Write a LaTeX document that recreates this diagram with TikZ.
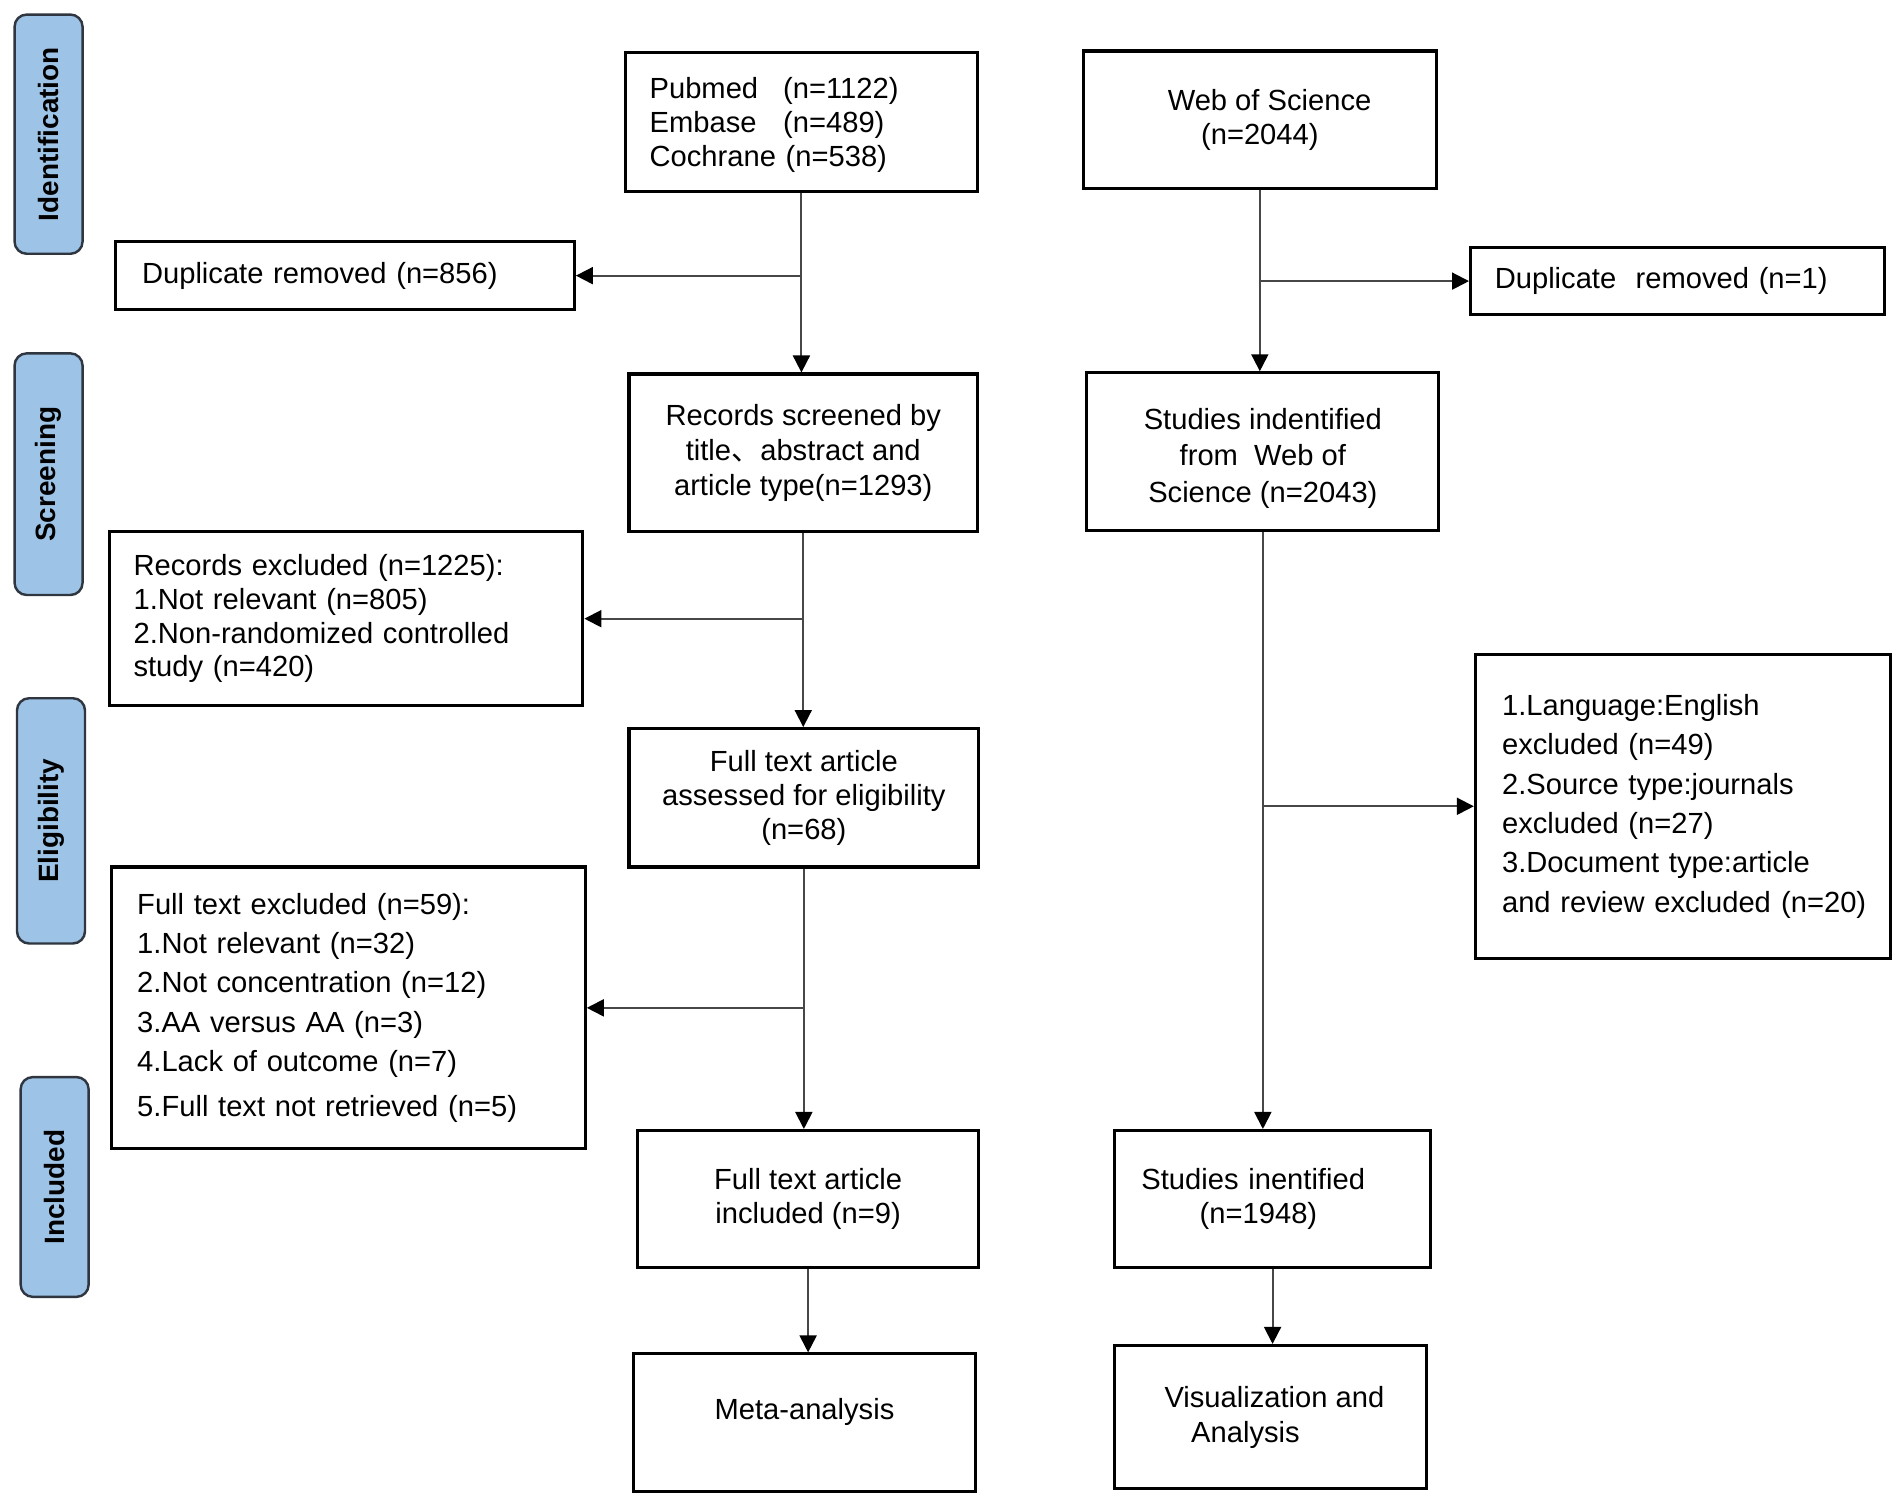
\documentclass[tikz,border=0pt]{standalone}
\usepackage{fontspec}
\setmainfont{Liberation Sans}
\newfontfamily\cjk{Noto Sans CJK SC}
\usetikzlibrary{arrows.meta}
\definecolor{labfill}{HTML}{9DC3E6}
\definecolor{labdraw}{HTML}{2F3640}
\begin{document}
\begin{tikzpicture}[x=0.5pt,y=-0.5pt,
  box/.style={draw=black, line width=1.25pt, rectangle, inner ysep=0pt, inner xsep=0pt, font=\fontsize{12}{14}\selectfont},
  bs/.style={font=\fontsize{12}{#1}\selectfont},
  lbox/.style={box, align=left},
  cbox/.style={box, align=center},
  phase/.style={draw=labdraw, fill=labfill, line width=1pt, rounded corners=5pt, rotate=90, inner sep=0pt, font=\fontsize{11.5}{13}\selectfont\bfseries},
  conn/.style={draw=black!72, line width=0.8pt},
  arr/.style={conn, -{Triangle[length=7pt,width=7pt,color=black]}}]
\useasboundingbox (0,0) rectangle (1568,1235);
\fill[white] (0,0) rectangle (1568,1235);

% phase labels
\node[phase, minimum width=98.5pt, minimum height=28pt] (pid) at (40,110.5) {Identification};
\node[phase, minimum width=99.5pt, minimum height=28pt] (psc) at (40,390.5) {Screening};
\node[phase, minimum width=101pt, minimum height=28pt] (pel) at (42,676) {Eligibility};
\node[phase, minimum width=90.5pt, minimum height=28pt] (pin) at (45,977.5) {Included};

% left column
\node[lbox, minimum width=145pt, minimum height=57.5pt, text width=125pt] (pub) at (660,100.5)
  {\rule{0pt}{11.5pt}\makebox[55pt][l]{Pubmed}(n=1122)\\\makebox[55pt][l]{Embase}(n=489)\\Cochrane~(n=538)};
\node[lbox, minimum width=189pt, minimum height=28pt, text width=167pt] (dup1) at (284,227)
  {Duplicate~removed~(n=856)};
\node[cbox, bs=14.5pt, minimum width=143.5pt, minimum height=65pt] (scr) at (661.5,373)
  {Records screened by\\title{\cjk 、}abstract and\\article type(n=1293)};
\node[lbox, bs=13.9pt, minimum width=195pt, minimum height=71.5pt, text width=175pt] (rex) at (285,509.5)
  {Records~excluded~(n=1225):\\1.Not~relevant~(n=805)\\2.Non-randomized~controlled\\study~(n=420)};
\node[cbox, minimum width=144pt, minimum height=57pt] (fta) at (662,657)
  {Full text article\\assessed for eligibility\\(n=68)};
\node[lbox, bs=16.25pt, minimum width=195pt, minimum height=116pt, text width=174pt] (ftx) at (287,830)
  {Full~text~excluded~(n=59):\\1.Not~relevant~(n=32)\\2.Not~concentration~(n=12)\\3.AA~versus~AA~(n=3)\\4.Lack~of~outcome~(n=7)\\[2.25pt]5.Full~text~not~retrieved~(n=5)};
\node[cbox, minimum width=140.5pt, minimum height=56.5pt] (fti) at (665.5,987.5)
  {Full text article\\included (n=9)};
\node[cbox, minimum width=140.5pt, minimum height=56.5pt] (meta) at (662.5,1171.5)
  {Meta-analysis\\[-3pt]\mbox{}};

% right column
\node[cbox, minimum width=145.5pt, minimum height=56.5pt] (wos) at (1037.5,98.5)
  {\hspace*{8pt}Web of Science\\(n=2044)};
\node[lbox, minimum width=170.5pt, minimum height=27.5pt, text width=150.5pt] (dup2) at (1381.5,231.5)
  {Duplicate~~removed~(n=1)};
\node[cbox, bs=15pt, minimum width=145pt, minimum height=65pt] (wos2) at (1040,372)
  {\rule{0pt}{14pt}Studies indentified\\from~~Web of\\Science (n=2043)};
\node[lbox, bs=16.2pt, minimum width=171pt, minimum height=125pt, text width=149pt] (lang) at (1386,664)
  {\mbox{1.Language:English}\\\mbox{excluded (n=49)}\\\mbox{2.Source type:journals}\\\mbox{excluded (n=27)}\\\mbox{3.Document type:article}\\\mbox{and review excluded\hspace{4.2pt}(n=20)}};
\node[lbox, minimum width=130pt, minimum height=56.5pt, text width=108pt] (si) at (1048,987.5)
  {\mbox{Studies inentified}\\\hspace*{24pt}(n=1948)};
\node[box, align=left, bs=14.5pt, minimum width=128.5pt, minimum height=59pt] (vis) at (1046.5,1167)
  {\hspace*{3pt}Visualization and\\\hspace*{14pt}Analysis};

% connectors
\draw[arr] (pub.south) -- (pub.south |- scr.north);
\coordinate (j1) at (pub.south |- dup1.east);
\draw[arr] (j1) -- (dup1.east);
\draw[arr] (scr.south) -- (scr.south |- fta.north);
\coordinate (j3) at (scr.south |- rex.east);
\draw[arr] (j3) -- (rex.east);
\draw[arr] (fta.south) -- (fta.south |- fti.north);
\coordinate (j5) at (fta.south |- ftx.east);
\draw[arr] (j5) -- (ftx.east);
\draw[arr] (fti.south) -- (fti.south |- meta.north);

\draw[arr] (wos.south) -- (wos.south |- wos2.north);
\coordinate (j2) at (wos.south |- dup2.west);
\draw[arr] (j2) -- (dup2.west);
\draw[arr] (wos2.south) -- (wos2.south |- si.north);
\coordinate (j4) at (wos2.south |- lang.west);
\draw[arr] (j4) -- (lang.west);
\draw[arr] (si.south) -- (si.south |- vis.north);
\end{tikzpicture}
\end{document}
